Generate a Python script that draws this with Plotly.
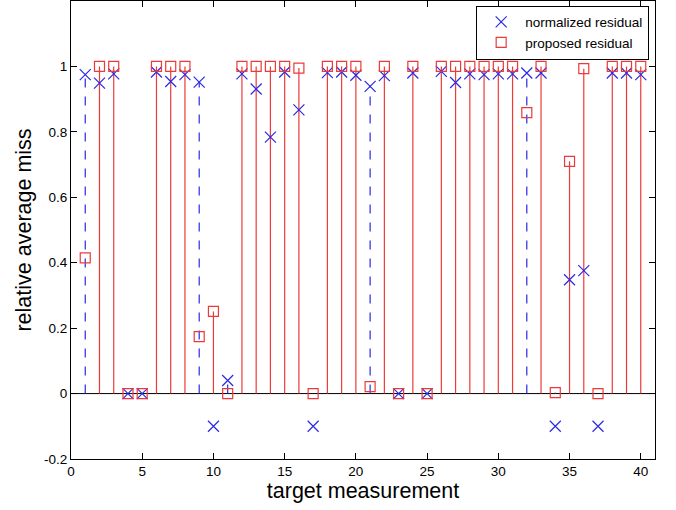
import plotly.graph_objects as go

targets = list(range(1, 41))
normalized = [0.975, 0.949, 0.977, 0.0, 0.0, 0.983, 0.954, 0.975, 0.952, -0.1,
              0.04, 0.977, 0.931, 0.784, 0.983, 0.867, -0.1, 0.981, 0.983, 0.973,
              0.939, 0.972, 0.0, 0.98, 0.0, 0.985, 0.951, 0.977, 0.975, 0.977,
              0.977, 0.98, 0.98, -0.1, 0.348, 0.376, -0.1, 0.98, 0.98, 0.975]
proposed = [0.415, 1.0, 1.0, 0.0, 0.0, 1.0, 1.0, 1.0, 0.174, 0.251,
            0.0, 1.0, 1.0, 1.0, 1.0, 0.995, 0.0, 1.0, 1.0, 1.0,
            0.021, 1.0, 0.0, 1.0, 0.0, 1.0, 1.0, 1.0, 1.0, 1.0,
            1.0, 0.859, 1.0, 0.003, 0.71, 0.993, 0.0, 1.0, 1.0, 1.0]

x_ticks = [0, 5, 10, 15, 20, 25, 30, 35, 40]
y_ticks = [-0.2, 0, 0.2, 0.4, 0.6, 0.8, 1.0]
y_labels = ["-0.2", "0", "0.2", "0.4", "0.6", "0.8", "1"]

BLUE = "#2a2ae6"
RED = "#ec3a3a"
FONT = "Liberation Sans, Arial"

# stems: drawn for whichever series is larger at each target
bx, by, rx, ry = [], [], [], []
for t, n, p in zip(targets, normalized, proposed):
    if n > p and n > 0:
        bx += [t, t, None]
        by += [0, n, None]
    elif p > 0:
        rx += [t, t, None]
        ry += [0, p, None]

fig = go.Figure()
fig.add_trace(go.Scatter(x=[0, 41], y=[0, 0], mode="lines",
                         line=dict(color="black", width=1), showlegend=False, hoverinfo="skip"))
fig.add_trace(go.Scatter(x=rx, y=ry, mode="lines", line=dict(color=RED, width=1.2),
                         showlegend=False, hoverinfo="skip"))
fig.add_trace(go.Scatter(x=bx, y=by, mode="lines", line=dict(color=BLUE, width=1.2, dash="dash"),
                         showlegend=False, hoverinfo="skip"))
fig.add_trace(go.Scatter(x=targets, y=normalized, mode="markers", name="normalized residual",
                         marker=dict(symbol="x-thin", size=11, line=dict(color=BLUE, width=1.2), color=BLUE)))
fig.add_trace(go.Scatter(x=targets, y=proposed, mode="markers", name="proposed residual",
                         marker=dict(symbol="square-open", size=10, color=RED, line=dict(width=1.2))))

axis_common = dict(showgrid=False, zeroline=False, showline=True, linecolor="black", linewidth=1,
                   mirror="ticks", ticks="inside", ticklen=6, tickcolor="black", automargin=False,
                   tickfont=dict(family=FONT, size=13.5, color="black"))
fig.update_layout(
    width=676, height=510,
    margin=dict(l=71, r=21, t=1, b=51),
    plot_bgcolor="white", paper_bgcolor="white",
    xaxis=dict(range=[0, 41], tickvals=x_ticks,
               title=dict(text="target measurement", standoff=4,
                          font=dict(family=FONT, size=21.5, color="black")),
               **axis_common),
    yaxis=dict(range=[-0.2, 1.2], tickvals=y_ticks, ticktext=y_labels,
               title=dict(text="relative average miss", standoff=6,
                          font=dict(family=FONT, size=21.5, color="black")),
               **axis_common),
    legend=dict(x=0.99, y=0.99, xanchor="right", yanchor="top", bgcolor="white",
                bordercolor="black", borderwidth=1,
                font=dict(family=FONT, size=13.5, color="black"),
                tracegroupgap=0, itemwidth=38),
)
fig.write_html("out.html", config={"displayModeBar": False},
               post_script="document.body.style.margin='0';")
